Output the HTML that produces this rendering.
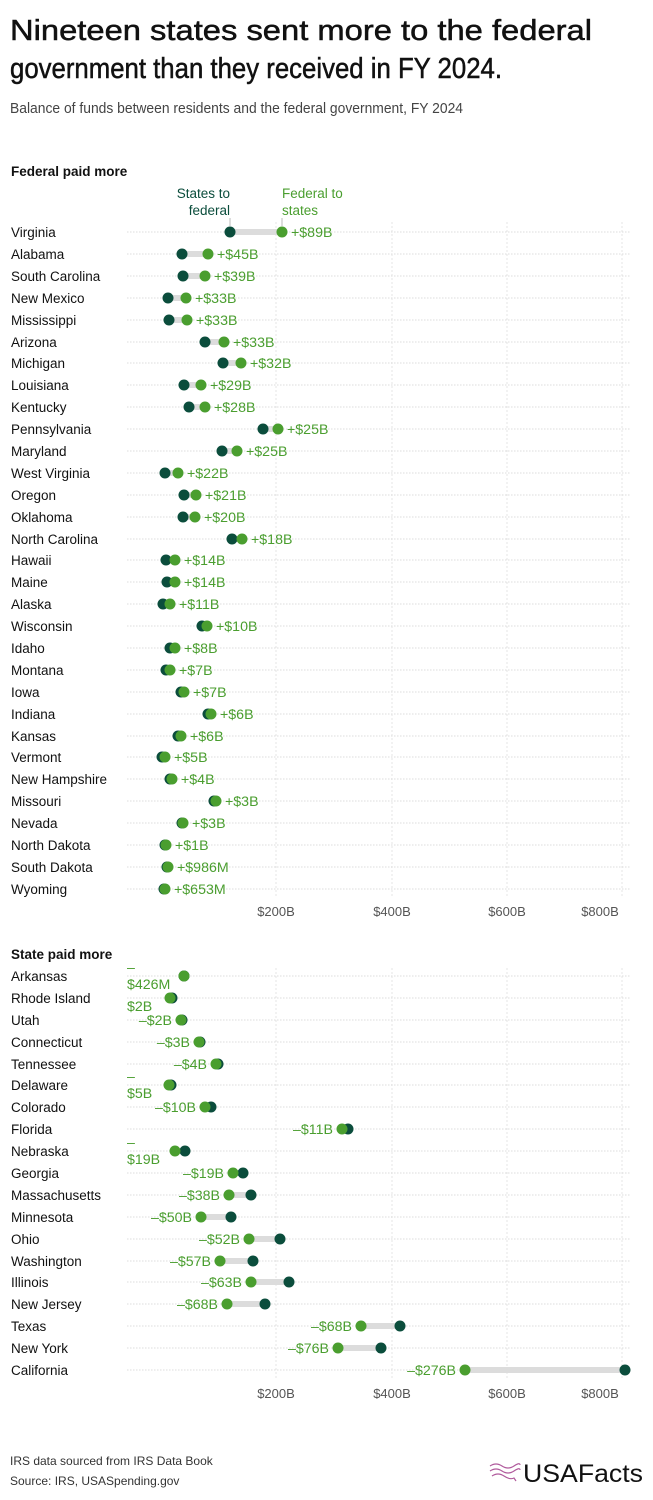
<!DOCTYPE html>
<html><head><meta charset="utf-8"><style>
body{margin:0;background:#fff}
svg{display:block;font-family:"Liberation Sans",sans-serif}
</style></head><body>
<svg width="653" height="1500" viewBox="0 0 653 1500">
<g stroke="#111" stroke-width="0.5">
<text x="10" y="40" font-size="29" fill="#111" textLength="582" lengthAdjust="spacingAndGlyphs">Nineteen states sent more to the federal</text>
<text x="10" y="78" font-size="29" fill="#111" textLength="492" lengthAdjust="spacingAndGlyphs">government than they received in FY 2024.</text>
</g>
<text x="10" y="113" font-size="15" fill="#444" textLength="453" lengthAdjust="spacingAndGlyphs">Balance of funds between residents and the federal government, FY 2024</text>

<text x="11" y="176" font-size="13.5" font-weight="bold" fill="#111">Federal paid more</text>
<text x="230" y="198" font-size="13.5" fill="#0b4d3c" text-anchor="end">States to</text>
<text x="230" y="215" font-size="13.5" fill="#0b4d3c" text-anchor="end">federal</text>
<text x="282" y="198" font-size="13.5" fill="#4a9e2f">Federal to</text>
<text x="282" y="215" font-size="13.5" fill="#4a9e2f">states</text>
<line x1="230" y1="218" x2="230" y2="226" stroke="#bbb"/>
<line x1="282" y1="218" x2="282" y2="226" stroke="#bbb"/>

<g stroke="#e4e4e4" stroke-width="1" stroke-dasharray="2,2">
<line x1="276" y1="222" x2="276" y2="897"/><line x1="392" y1="222" x2="392" y2="897"/><line x1="507" y1="222" x2="507" y2="897"/><line x1="622" y1="222" x2="622" y2="897"/>
<line x1="276" y1="968" x2="276" y2="1378"/><line x1="392" y1="968" x2="392" y2="1378"/><line x1="507" y1="968" x2="507" y2="1378"/><line x1="622" y1="968" x2="622" y2="1378"/>
</g>
<g font-size="13" fill="#555" text-anchor="middle">
<text x="276" y="916">$200B</text><text x="392" y="916">$400B</text><text x="507" y="916">$600B</text><text x="600" y="916">$800B</text>
<text x="276" y="1398">$200B</text><text x="392" y="1398">$400B</text><text x="507" y="1398">$600B</text><text x="600" y="1398">$800B</text>
</g>

<g font-size="13.5">
<g stroke="#ddd" stroke-dasharray="1.5,1.5">
<line x1="127" y1="232" x2="630" y2="232"/><line x1="127" y1="254" x2="630" y2="254"/><line x1="127" y1="276" x2="630" y2="276"/><line x1="127" y1="298" x2="630" y2="298"/><line x1="127" y1="320" x2="630" y2="320"/><line x1="127" y1="342" x2="630" y2="342"/><line x1="127" y1="363" x2="630" y2="363"/><line x1="127" y1="385" x2="630" y2="385"/><line x1="127" y1="407" x2="630" y2="407"/><line x1="127" y1="429" x2="630" y2="429"/><line x1="127" y1="451" x2="630" y2="451"/><line x1="127" y1="473" x2="630" y2="473"/><line x1="127" y1="495" x2="630" y2="495"/><line x1="127" y1="517" x2="630" y2="517"/><line x1="127" y1="539" x2="630" y2="539"/><line x1="127" y1="560" x2="630" y2="560"/><line x1="127" y1="582" x2="630" y2="582"/><line x1="127" y1="604" x2="630" y2="604"/><line x1="127" y1="626" x2="630" y2="626"/><line x1="127" y1="648" x2="630" y2="648"/><line x1="127" y1="670" x2="630" y2="670"/><line x1="127" y1="692" x2="630" y2="692"/><line x1="127" y1="714" x2="630" y2="714"/><line x1="127" y1="736" x2="630" y2="736"/><line x1="127" y1="757" x2="630" y2="757"/><line x1="127" y1="779" x2="630" y2="779"/><line x1="127" y1="801" x2="630" y2="801"/><line x1="127" y1="823" x2="630" y2="823"/><line x1="127" y1="845" x2="630" y2="845"/><line x1="127" y1="867" x2="630" y2="867"/><line x1="127" y1="889" x2="630" y2="889"/>
</g>
<g stroke="#dcdcdc" stroke-width="6">
<line x1="230" y1="232" x2="282" y2="232"/><line x1="182" y1="254" x2="208" y2="254"/><line x1="183" y1="276" x2="205" y2="276"/><line x1="168" y1="298" x2="186" y2="298"/><line x1="169" y1="320" x2="187" y2="320"/><line x1="205" y1="342" x2="224" y2="342"/><line x1="223" y1="363" x2="241" y2="363"/><line x1="184" y1="385" x2="201" y2="385"/><line x1="189" y1="407" x2="205" y2="407"/><line x1="263" y1="429" x2="278" y2="429"/><line x1="222" y1="451" x2="237" y2="451"/><line x1="165" y1="473" x2="178" y2="473"/><line x1="184" y1="495" x2="196" y2="495"/><line x1="183" y1="517" x2="195" y2="517"/><line x1="232" y1="539" x2="242" y2="539"/><line x1="166" y1="560" x2="175" y2="560"/><line x1="167" y1="582" x2="175" y2="582"/><line x1="163" y1="604" x2="170" y2="604"/>
</g>
<g fill="#0b4d3c">
<circle cx="230" cy="232" r="5.5"/><circle cx="182" cy="254" r="5.5"/><circle cx="183" cy="276" r="5.5"/><circle cx="168" cy="298" r="5.5"/><circle cx="169" cy="320" r="5.5"/><circle cx="205" cy="342" r="5.5"/><circle cx="223" cy="363" r="5.5"/><circle cx="184" cy="385" r="5.5"/><circle cx="189" cy="407" r="5.5"/><circle cx="263" cy="429" r="5.5"/><circle cx="222" cy="451" r="5.5"/><circle cx="165" cy="473" r="5.5"/><circle cx="184" cy="495" r="5.5"/><circle cx="183" cy="517" r="5.5"/><circle cx="232" cy="539" r="5.5"/><circle cx="166" cy="560" r="5.5"/><circle cx="167" cy="582" r="5.5"/><circle cx="163" cy="604" r="5.5"/><circle cx="202" cy="626" r="5.5"/><circle cx="170" cy="648" r="5.5"/><circle cx="166" cy="670" r="5.5"/><circle cx="181" cy="692" r="5.5"/><circle cx="208" cy="714" r="5.5"/><circle cx="178" cy="736" r="5.5"/><circle cx="162" cy="757" r="5.5"/><circle cx="170" cy="779" r="5.5"/><circle cx="214" cy="801" r="5.5"/><circle cx="182" cy="823" r="5.5"/><circle cx="165" cy="845" r="5.5"/><circle cx="167" cy="867" r="5.5"/><circle cx="164" cy="889" r="5.5"/>
</g>
<g fill="#4a9e2f">
<circle cx="282" cy="232" r="5.5"/><circle cx="208" cy="254" r="5.5"/><circle cx="205" cy="276" r="5.5"/><circle cx="186" cy="298" r="5.5"/><circle cx="187" cy="320" r="5.5"/><circle cx="224" cy="342" r="5.5"/><circle cx="241" cy="363" r="5.5"/><circle cx="201" cy="385" r="5.5"/><circle cx="205" cy="407" r="5.5"/><circle cx="278" cy="429" r="5.5"/><circle cx="237" cy="451" r="5.5"/><circle cx="178" cy="473" r="5.5"/><circle cx="196" cy="495" r="5.5"/><circle cx="195" cy="517" r="5.5"/><circle cx="242" cy="539" r="5.5"/><circle cx="175" cy="560" r="5.5"/><circle cx="175" cy="582" r="5.5"/><circle cx="170" cy="604" r="5.5"/><circle cx="207" cy="626" r="5.5"/><circle cx="175" cy="648" r="5.5"/><circle cx="170" cy="670" r="5.5"/><circle cx="184" cy="692" r="5.5"/><circle cx="211" cy="714" r="5.5"/><circle cx="181" cy="736" r="5.5"/><circle cx="165" cy="757" r="5.5"/><circle cx="172" cy="779" r="5.5"/><circle cx="216" cy="801" r="5.5"/><circle cx="183" cy="823" r="5.5"/><circle cx="166" cy="845" r="5.5"/><circle cx="168" cy="867" r="5.5"/><circle cx="165" cy="889" r="5.5"/>
</g>
<g fill="#111">
<text x="11" y="237">Virginia</text><text x="11" y="259">Alabama</text><text x="11" y="281">South Carolina</text><text x="11" y="303">New Mexico</text><text x="11" y="325">Mississippi</text><text x="11" y="347">Arizona</text><text x="11" y="368">Michigan</text><text x="11" y="390">Louisiana</text><text x="11" y="412">Kentucky</text><text x="11" y="434">Pennsylvania</text><text x="11" y="456">Maryland</text><text x="11" y="478">West Virginia</text><text x="11" y="500">Oregon</text><text x="11" y="522">Oklahoma</text><text x="11" y="544">North Carolina</text><text x="11" y="565">Hawaii</text><text x="11" y="587">Maine</text><text x="11" y="609">Alaska</text><text x="11" y="631">Wisconsin</text><text x="11" y="653">Idaho</text><text x="11" y="675">Montana</text><text x="11" y="697">Iowa</text><text x="11" y="719">Indiana</text><text x="11" y="741">Kansas</text><text x="11" y="762">Vermont</text><text x="11" y="784">New Hampshire</text><text x="11" y="806">Missouri</text><text x="11" y="828">Nevada</text><text x="11" y="850">North Dakota</text><text x="11" y="872">South Dakota</text><text x="11" y="894">Wyoming</text>
</g>
<g fill="#4a9e2f" font-size="14.2">
<text x="291" y="237">+$89B</text><text x="217" y="259">+$45B</text><text x="214" y="281">+$39B</text><text x="195" y="303">+$33B</text><text x="196" y="325">+$33B</text><text x="233" y="347">+$33B</text><text x="250" y="368">+$32B</text><text x="210" y="390">+$29B</text><text x="214" y="412">+$28B</text><text x="287" y="434">+$25B</text><text x="246" y="456">+$25B</text><text x="187" y="478">+$22B</text><text x="205" y="500">+$21B</text><text x="204" y="522">+$20B</text><text x="251" y="544">+$18B</text><text x="184" y="565">+$14B</text><text x="184" y="587">+$14B</text><text x="179" y="609">+$11B</text><text x="216" y="631">+$10B</text><text x="184" y="653">+$8B</text><text x="179" y="675">+$7B</text><text x="193" y="697">+$7B</text><text x="220" y="719">+$6B</text><text x="190" y="741">+$6B</text><text x="174" y="762">+$5B</text><text x="181" y="784">+$4B</text><text x="225" y="806">+$3B</text><text x="192" y="828">+$3B</text><text x="175" y="850">+$1B</text><text x="177" y="872">+$986M</text><text x="174" y="894">+$653M</text>
</g>
</g>

<text x="11" y="959" font-size="13.5" font-weight="bold" fill="#111">State paid more</text>
<g font-size="13.5">
<g stroke="#ddd" stroke-dasharray="1.5,1.5">
<line x1="127" y1="976" x2="630" y2="976"/><line x1="127" y1="998" x2="630" y2="998"/><line x1="127" y1="1020" x2="630" y2="1020"/><line x1="127" y1="1042" x2="630" y2="1042"/><line x1="127" y1="1064" x2="630" y2="1064"/><line x1="127" y1="1085" x2="630" y2="1085"/><line x1="127" y1="1107" x2="630" y2="1107"/><line x1="127" y1="1129" x2="630" y2="1129"/><line x1="127" y1="1151" x2="630" y2="1151"/><line x1="127" y1="1173" x2="630" y2="1173"/><line x1="127" y1="1195" x2="630" y2="1195"/><line x1="127" y1="1217" x2="630" y2="1217"/><line x1="127" y1="1239" x2="630" y2="1239"/><line x1="127" y1="1261" x2="630" y2="1261"/><line x1="127" y1="1282" x2="630" y2="1282"/><line x1="127" y1="1304" x2="630" y2="1304"/><line x1="127" y1="1326" x2="630" y2="1326"/><line x1="127" y1="1348" x2="630" y2="1348"/><line x1="127" y1="1370" x2="630" y2="1370"/>
</g>
<g stroke="#dcdcdc" stroke-width="6">
<line x1="175" y1="1151" x2="185" y2="1151"/><line x1="233" y1="1173" x2="243" y2="1173"/><line x1="229" y1="1195" x2="251" y2="1195"/><line x1="201" y1="1217" x2="231" y2="1217"/><line x1="249" y1="1239" x2="280" y2="1239"/><line x1="220" y1="1261" x2="253" y2="1261"/><line x1="251" y1="1282" x2="289" y2="1282"/><line x1="227" y1="1304" x2="265" y2="1304"/><line x1="361" y1="1326" x2="400" y2="1326"/><line x1="338" y1="1348" x2="381" y2="1348"/><line x1="465" y1="1370" x2="625" y2="1370"/>
</g>
<g fill="#0b4d3c">
<circle cx="184" cy="976" r="5.5"/><circle cx="172" cy="998" r="5.5"/><circle cx="182" cy="1020" r="5.5"/><circle cx="200" cy="1042" r="5.5"/><circle cx="218" cy="1064" r="5.5"/><circle cx="171" cy="1085" r="5.5"/><circle cx="211" cy="1107" r="5.5"/><circle cx="348" cy="1129" r="5.5"/><circle cx="185" cy="1151" r="5.5"/><circle cx="243" cy="1173" r="5.5"/><circle cx="251" cy="1195" r="5.5"/><circle cx="231" cy="1217" r="5.5"/><circle cx="280" cy="1239" r="5.5"/><circle cx="253" cy="1261" r="5.5"/><circle cx="289" cy="1282" r="5.5"/><circle cx="265" cy="1304" r="5.5"/><circle cx="400" cy="1326" r="5.5"/><circle cx="381" cy="1348" r="5.5"/><circle cx="625" cy="1370" r="5.5"/>
</g>
<g fill="#4a9e2f">
<circle cx="184" cy="976" r="5.5"/><circle cx="170" cy="998" r="5.5"/><circle cx="181" cy="1020" r="5.5"/><circle cx="199" cy="1042" r="5.5"/><circle cx="216" cy="1064" r="5.5"/><circle cx="169" cy="1085" r="5.5"/><circle cx="205" cy="1107" r="5.5"/><circle cx="342" cy="1129" r="5.5"/><circle cx="175" cy="1151" r="5.5"/><circle cx="233" cy="1173" r="5.5"/><circle cx="229" cy="1195" r="5.5"/><circle cx="201" cy="1217" r="5.5"/><circle cx="249" cy="1239" r="5.5"/><circle cx="220" cy="1261" r="5.5"/><circle cx="251" cy="1282" r="5.5"/><circle cx="227" cy="1304" r="5.5"/><circle cx="361" cy="1326" r="5.5"/><circle cx="338" cy="1348" r="5.5"/><circle cx="465" cy="1370" r="5.5"/>
</g>
<g fill="#111">
<text x="11" y="981">Arkansas</text><text x="11" y="1003">Rhode Island</text><text x="11" y="1025">Utah</text><text x="11" y="1047">Connecticut</text><text x="11" y="1069">Tennessee</text><text x="11" y="1090">Delaware</text><text x="11" y="1112">Colorado</text><text x="11" y="1134">Florida</text><text x="11" y="1156">Nebraska</text><text x="11" y="1178">Georgia</text><text x="11" y="1200">Massachusetts</text><text x="11" y="1222">Minnesota</text><text x="11" y="1244">Ohio</text><text x="11" y="1266">Washington</text><text x="11" y="1287">Illinois</text><text x="11" y="1309">New Jersey</text><text x="11" y="1331">Texas</text><text x="11" y="1353">New York</text><text x="11" y="1375">California</text>
</g>
<g fill="#4a9e2f" font-size="14.2">
<text x="127" y="972">–</text><text x="127" y="989">$426M</text>
<text x="127" y="1011">$2B</text>
<text x="172" y="1025" text-anchor="end">–$2B</text>
<text x="190" y="1047" text-anchor="end">–$3B</text>
<text x="207" y="1069" text-anchor="end">–$4B</text>
<text x="127" y="1081">–</text><text x="127" y="1098">$5B</text>
<text x="196" y="1112" text-anchor="end">–$10B</text>
<text x="333" y="1134" text-anchor="end">–$11B</text>
<text x="127" y="1147">–</text><text x="127" y="1164">$19B</text>
<text x="224" y="1178" text-anchor="end">–$19B</text>
<text x="220" y="1200" text-anchor="end">–$38B</text>
<text x="192" y="1222" text-anchor="end">–$50B</text>
<text x="240" y="1244" text-anchor="end">–$52B</text>
<text x="211" y="1266" text-anchor="end">–$57B</text>
<text x="242" y="1287" text-anchor="end">–$63B</text>
<text x="218" y="1309" text-anchor="end">–$68B</text>
<text x="352" y="1331" text-anchor="end">–$68B</text>
<text x="329" y="1353" text-anchor="end">–$76B</text>
<text x="456" y="1375" text-anchor="end">–$276B</text>
</g>
</g>

<text x="10" y="1465" font-size="12" fill="#333">IRS data sourced from IRS Data Book</text>
<text x="10" y="1485" font-size="12" fill="#333">Source: IRS, USASpending.gov</text>
<g fill="none" stroke="#b05a9c" stroke-width="1.2">
<path d="M490 1466 q6 -4 12 0 t12 0 t6 -1"/><path d="M490 1471 q6 -4 12 0 t12 0 t6 -1"/><path d="M492 1476 q6 -4 12 0 t10 2 l2 3"/>
</g>
<text x="523" y="1482" font-size="25" fill="#111" textLength="120" lengthAdjust="spacingAndGlyphs">USAFacts</text>
</svg>
</body></html>
